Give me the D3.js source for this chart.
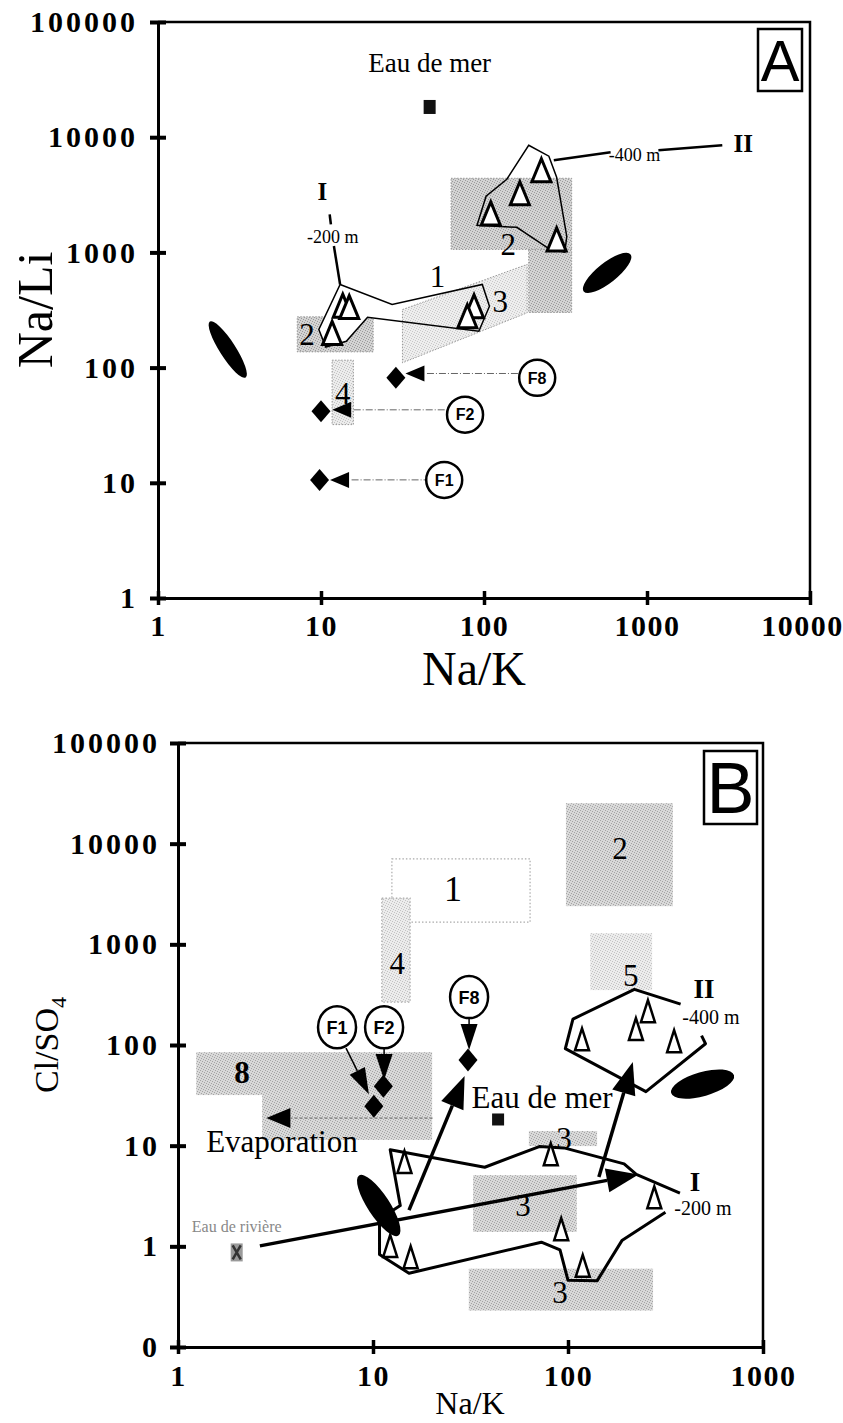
<!DOCTYPE html>
<html><head><meta charset="utf-8">
<script src="https://cdn.jsdelivr.net/npm/d3@7"></script>
<style>body{margin:0;background:#fff}</style>
</head><body>
<svg id="c" width="843" height="1423"></svg>
<script>
// ================= DATA =================
// axis ticks
const A_xTicks = [1,10,100,1000,10000];
const A_xLabels = ["1","10","100","1000","10000"];
const A_yTicks = [1,10,100,1000,10000,100000];
const A_yLabels = ["1","10","100","1000","10000","100000"];
const B_xTicks = [1,10,100,1000];
const B_xLabels = ["1","10","100","1000"];
const B_yTicks = [0.1,1,10,100,1000,10000,100000];
const B_yLabels = ["0","1","10","100","1000","10000","100000"];

// ---- Panel A (Na/K , Na/Li) ----
const A_trianglesI = [[13.6,345],[14.9,335],[11.7,200],[86.9,341],[79,279]];
const A_trianglesII = [[225,5165],[166,3260],[110,2180],[279,1297]];
const A_polyI = [[13.1,527],[27.3,353],[97.6,527],[108,341],[93,207],[19.3,274],[14.3,169],[10.7,151],[9.7,214]];
const A_polyII = [[188,8510],[250,6840],[279,4490],[322,1377],[313,1000],[243,1105],[159,1650],[90.6,1718],[103,3070],[138,4315]];
const A_leaderI = [[[11.3,2140],[11.5,1750]],[[12.0,1135],[13.1,527]]];
const A_leaderII = [[[268,6310],[598,7410]],[[1175,7710],[2897,8510]]];
const A_boxes = [ // [x0,x1,y0,y1,shade]
  [62.8,345,1062,4400,"dark"],
  [188,345,301,1062,"dark"],
  [7.15,20.9,137,276,"dark"],
  [11.7,15.8,32,116,"light"]
];
const A_parallelogram3 = [[31.6,319],[184,787],[184,299],[31.6,110]];
const A_zoneLabels = [["1",51.8,622],["2",141,1175],["3",126,377],["2",8.2,194],["4",13.6,60]];
const A_fNames = ["F1","F2","F8"];
const A_fDiamonds = [[9.8,10.6],[10.0,41.7],[28.8,81.5]];
const A_fArrowTips = [[13.0,10.6],[13.4,43],[37.7,88.9]];
const A_fCircles = [[57,10.6],[76.5,39],[212,81.5]];
const A_seaWater = [46.4,18300];
const A_seaLabel = [46.4,44900];
const A_ellipses = [[[2.08,251],[3.45,82]],[[409,458],[793,961]]];
const A_groupLabels = [["I",10.2,3390],["-200 m",11.8,1377],["II",3890,8870],["-400 m",839,7110]];

// ---- Panel B (Na/K , Cl/SO4) ----
const B_polyI = [[375,3.38],[224,5.18],[194,6.6],[95.5,9.5],[71.2,9.8],[37.4,6.1],[12.25,9.1],[13.8,2.54],[10.8,1.87],[10.8,0.83],[15.3,0.54],[73,1.1],[91,0.92],[100,0.46],[141,0.454],[189,1.14],[316,2.18]];
const B_polyII = [[378,255],[219,357],[106,181],[96.9,91.9],[251,34.4],[507,103],[484,124]];
const B_trianglesI = [[14.5,6.9],[81.6,8.2],[277,3.07],[92.3,1.48],[119,0.64],[12.25,1.01],[15.6,0.78]];
const B_trianglesII = [[118,114],[223,144],[257,217],[350,109]];
const B_boxes = [ // [x0,x1,y0,y1,shade]
  [12.5,63.9,1660,7050,"none"],
  [11.1,15.5,267,2880,"light"],
  [97.6,345,2395,25250,"med"],
  [130,270,351,1291,"light"],
  [1.24,20.1,31.8,84.9,"med"],
  [2.7,20.1,11.4,31.8,"med"],
  [63,141,9.9,14,"med"],
  [32.6,111,1.39,5.1,"med"],
  [31,273,0.23,0.6,"med"]
];
const B_zoneLabels = [["1",25.7,3610],["2",185,9020],["4",13.3,650],["5",210,494],["8",2.13,53.8],["3",95.4,11.9],["3",58.8,2.57],["3",91,0.351]];
const B_thickArrows = [[[2.63,1.01],[230,5.18]],[[15.3,2.29],[29.5,49.1]],[[144,4.88],[215,67.6]]];
const B_evapArrow = [[20.2,18.8],[2.84,18.8]];
const B_fNames = ["F1","F2","F8"];
const B_fCircles = [[6.54,150],[11.4,150],[31.1,299]];
const B_fArrows = [[[7.27,93],[9.53,32.5]],[[11.4,93],[11.4,44.8]],[[31.1,185],[31.1,89]]];
const B_fDiamonds = [[10.1,24.7],[11.3,39],[30.7,70.8]];
const B_seaWater = [43.8,18.2];
const B_seaLabel = [73.6,30.4];
const B_river = [2,0.87];
const B_riverLabel = [2.0,1.56];
const B_evapLabel = [3.41,11.1];
const B_ellipses = [[[8.48,5.06],[13.5,1.28]],[[338,33.3],[710,50.2]]];
const B_groupLabels = [["II",498,367],["-400 m",541,189],["I",448,4.45],["-200 m",492,2.4]];

// ================= DRAWING =================
const SERIF = '"Liberation Serif","Times New Roman",serif';
const SANS = '"Liberation Sans",Arial,Helvetica,sans-serif';
const svg = d3.select('#c');
const defs = svg.append('defs');
function pattern(id,bg,dot){
  const p=defs.append('pattern').attr('id',id).attr('width',5).attr('height',5).attr('patternUnits','userSpaceOnUse');
  p.append('rect').attr('width',5).attr('height',5).attr('fill',bg);
  [[0,0],[2,1],[4,2],[1,3],[3,4]].forEach(([x,y])=>p.append('rect').attr('x',x).attr('y',y).attr('width',1).attr('height',1).attr('fill',dot));
}
pattern('p-dark','#d3d3d3','#9a9a9a');
pattern('p-med','#d9d9d9','#a4a4a4');
pattern('p-light','#ececec','#c2c2c2');
const fillOf = s => s==='none' ? '#fff' : `url(#p-${s})`;

const xA = d3.scaleLog().domain([1,10000]).range([158,810]);
const yA = d3.scaleLog().domain([1,100000]).range([598,22]);
const xB = d3.scaleLog().domain([1,1000]).range([178,763]);
const yB = d3.scaleLog().domain([0.1,100000]).range([1347,743]);

function triUp(cx,cy,w,h){return `M${cx},${cy-h/2}L${cx+w/2},${cy+h/2}L${cx-w/2},${cy+h/2}Z`;}
function diamond(cx,cy,w,h){return `M${cx},${cy-h/2}L${cx+w/2},${cy}L${cx},${cy+h/2}L${cx-w/2},${cy}Z`;}
function triLeft(cx,cy,w,h){return `M${cx-w/2},${cy}L${cx+w/2},${cy-h/2}L${cx+w/2},${cy+h/2}Z`;}
function head(g,x1,y1,x2,y2,len,w){
  const a=Math.atan2(y2-y1,x2-x1);
  const bx=x2-len*Math.cos(a), by=y2-len*Math.sin(a);
  const px=-Math.sin(a)*w/2, py=Math.cos(a)*w/2;
  g.append('path').attr('d',`M${x2},${y2}L${bx+px},${by+py}L${bx-px},${by-py}Z`).attr('fill','#000');
  return [bx,by];
}
function ellipse(g,p1,p2,ry,xs,ys){
  const x1=xs(p1[0]),y1=ys(p1[1]),x2=xs(p2[0]),y2=ys(p2[1]);
  const cx=(x1+x2)/2, cy=(y1+y2)/2, rx=Math.hypot(x2-x1,y2-y1)/2;
  const ang=Math.atan2(y2-y1,x2-x1)*180/Math.PI;
  g.append('ellipse').attr('cx',cx).attr('cy',cy).attr('rx',rx).attr('ry',ry)
    .attr('transform',`rotate(${ang},${cx},${cy})`).attr('fill','#000');
}
function axes(g,xs,ys,xT,xL,yT,yL,fs,padL,padB,lastShift){
  const ax=g.append('g').attr('transform',`translate(0,${ys.range()[0]})`)
    .call(d3.axisBottom(xs).tickValues(xT).tickFormat((d,i)=>xL[i]).tickSizeInner(7).tickSizeOuter(0).tickPadding(padB));
  ax.selectAll('.tick line').attr('y1',-7).attr('stroke-width',3.5);
  ax.selectAll('text').attr('letter-spacing',1.5);
  ax.selectAll('.tick:last-of-type text').attr('dx',lastShift);
  const ay=g.append('g').attr('transform',`translate(${xs.range()[0]},0)`)
    .call(d3.axisLeft(ys).tickValues(yT).tickFormat((d,i)=>yL[i]).tickSizeInner(8).tickSizeOuter(0).tickPadding(padL));
  ay.selectAll('.tick line').attr('x1',8).attr('stroke-width',4);
  ay.selectAll('text').attr('letter-spacing',3);
  [ax,ay].forEach(a=>{
    a.select('.domain').attr('stroke','#000').attr('stroke-width',3);
    a.selectAll('text').attr('font-family',SERIF).attr('font-size',fs).attr('font-weight','bold').attr('fill','#000');
  });
  const [x0,x1]=xs.range(), [yb,yt]=ys.range();
  g.append('path').attr('d',`M${x0},${yt}H${x1}V${yb}`).attr('fill','none').attr('stroke','#000').attr('stroke-width',2.5);
}

// ---------------- Panel A ----------------
const gA = svg.append('g');
A_boxes.forEach(b=>{
  gA.append('rect').attr('x',xA(b[0])).attr('y',yA(b[3])).attr('width',xA(b[1])-xA(b[0])).attr('height',yA(b[2])-yA(b[3]))
    .attr('fill',fillOf(b[4])).attr('stroke','#999').attr('stroke-width',1).attr('stroke-dasharray','1.5,1.5');
});
const lineA = d3.line().x(d=>xA(d[0])).y(d=>yA(d[1]));
gA.append('path').attr('d',lineA(A_polyI)+'Z').attr('fill','#fff').attr('stroke','none');
gA.append('path').attr('d',lineA(A_parallelogram3)+'Z').attr('fill','url(#p-light)').attr('fill-opacity',0.9)
  .attr('stroke','#999').attr('stroke-width',1).attr('stroke-dasharray','1.5,1.5');
gA.append('path').attr('d',lineA(A_polyI)+'Z').attr('fill','none').attr('stroke','#000').attr('stroke-width',1.5);
gA.append('path').attr('d',lineA(A_polyII)+'Z').attr('fill','none').attr('stroke','#000').attr('stroke-width',1.5);
A_leaderI.concat(A_leaderII).forEach(seg=>gA.append('path').attr('d',lineA(seg)).attr('stroke','#000').attr('stroke-width',2.5).attr('fill','none'));
A_trianglesI.concat(A_trianglesII).forEach(p=>{
  gA.append('path').attr('d',triUp(xA(p[0]),yA(p[1]),19,23)).attr('fill','#fff').attr('stroke','#000').attr('stroke-width',3).attr('stroke-linejoin','miter');
});
A_zoneLabels.forEach(l=>gA.append('text').attr('x',xA(l[1])).attr('y',yA(l[2])).attr('dy','0.35em').attr('text-anchor','middle')
  .attr('font-family',SERIF).attr('font-size',31).text(l[0]));
A_groupLabels.forEach(l=>gA.append('text').attr('x',xA(l[1])).attr('y',yA(l[2])).attr('dy','0.35em').attr('text-anchor','middle')
  .attr('font-family',SERIF).attr('font-size',l[0].length>2?18:25).attr('font-weight',l[0].length>2?'normal':'bold').text(l[0]));
// F markers
A_fNames.forEach((n,i)=>{
  const d=A_fDiamonds[i], t=A_fArrowTips[i], c=A_fCircles[i];
  const tx=xA(t[0]), ty=yA(t[1]), cx=xA(c[0]), cy=yA(c[1]);
  gA.append('line').attr('x1',tx+12).attr('x2',cx-18).attr('y1',ty).attr('y2',ty).attr('stroke','#666').attr('stroke-width',1).attr('stroke-dasharray','7,2,1,2');
  gA.append('path').attr('d',diamond(xA(d[0]),yA(d[1]),19,22)).attr('fill','#000');
  gA.append('path').attr('d',triLeft(tx,ty,19,16)).attr('fill','#000');
  gA.append('circle').attr('cx',cx).attr('cy',cy).attr('r',18).attr('fill','#fff').attr('stroke','#000').attr('stroke-width',2.5);
  gA.append('text').attr('x',cx).attr('y',cy).attr('dy','0.36em').attr('text-anchor','middle').attr('font-family',SANS).attr('font-weight','bold').attr('font-size',16).text(n);
});
gA.append('rect').attr('x',xA(A_seaWater[0])-6).attr('y',yA(A_seaWater[1])-7).attr('width',12).attr('height',14).attr('fill','#111');
gA.append('text').attr('x',xA(A_seaLabel[0])).attr('y',yA(A_seaLabel[1])).attr('dy','0.35em').attr('text-anchor','middle').attr('font-family',SERIF).attr('font-size',27).text('Eau de mer');
A_ellipses.forEach((e,i)=>ellipse(gA,e[0],e[1],i===0?8:10,xA,yA));
axes(gA,xA,yA,A_xTicks,A_xLabels,A_yTicks,A_yLabels,30,12,10,-8);
gA.append('rect').attr('x',758).attr('y',29).attr('width',44).attr('height',62).attr('fill','#fff').attr('stroke','#000').attr('stroke-width',2.5);
gA.append('text').attr('x',780).attr('y',81).attr('text-anchor','middle').attr('font-family',SANS).attr('font-size',58).text('A');
gA.append('text').attr('x',474).attr('y',685).attr('text-anchor','middle').attr('font-family',SERIF).attr('font-size',48).text('Na/K');
gA.append('text').attr('transform','translate(52,310) rotate(-90)').attr('text-anchor','middle').attr('font-family',SERIF).attr('font-size',50).text('Na/Li');

// ---------------- Panel B ----------------
const gB = svg.append('g');
B_boxes.forEach(b=>{
  const r=gB.append('rect').attr('x',xB(b[0])).attr('y',yB(b[3])).attr('width',xB(b[1])-xB(b[0])).attr('height',yB(b[2])-yB(b[3]))
    .attr('fill',fillOf(b[4]));
  if(b[4]==='none'||(b[4]==='light'&&b[0]<20)) r.attr('stroke','#aaa').attr('stroke-width',1.2).attr('stroke-dasharray','1.5,2');
});
const lineB = d3.line().x(d=>xB(d[0])).y(d=>yB(d[1]));
gB.append('path').attr('d',lineB(B_polyI)).attr('fill','none').attr('stroke','#000').attr('stroke-width',3).attr('stroke-linejoin','round');
gB.append('path').attr('d',lineB(B_polyII)).attr('fill','none').attr('stroke','#000').attr('stroke-width',3).attr('stroke-linejoin','round');
B_zoneLabels.forEach(l=>gB.append('text').attr('x',xB(l[1])).attr('y',yB(l[2])).attr('dy','0.35em').attr('text-anchor','middle')
  .attr('font-family',SERIF).attr('font-size',l[0]==='1'?36:31).attr('font-weight',l[0]==='8'?'bold':'normal').text(l[0]));
// thick arrows
B_thickArrows.forEach(a=>{
  const x1=xB(a[0][0]),y1=yB(a[0][1]),x2=xB(a[1][0]),y2=yB(a[1][1]);
  const [bx,by]=head(gB,x1,y1,x2,y2,32,24);
  gB.append('line').attr('x1',x1).attr('y1',y1).attr('x2',bx).attr('y2',by).attr('stroke','#000').attr('stroke-width',3.5);
});
// evaporation
{
  const a=B_evapArrow, x1=xB(a[0][0]),y1=yB(a[0][1]),x2=xB(a[1][0]),y2=yB(a[1][1]);
  const [bx,by]=head(gB,x1,y1,x2,y2,24,20);
  gB.append('line').attr('x1',x1).attr('y1',y1).attr('x2',bx).attr('y2',by).attr('stroke','#777').attr('stroke-width',1.2).attr('stroke-dasharray','3,2');
}
B_trianglesI.concat(B_trianglesII).forEach(p=>{
  gB.append('path').attr('d',triUp(xB(p[0]),yB(p[1]),14,22)).attr('fill','#fff').attr('stroke','#000').attr('stroke-width',2.5);
});
// F markers
B_fNames.forEach((n,i)=>{
  const c=B_fCircles[i], a=B_fArrows[i], d=B_fDiamonds[i];
  const x1=xB(a[0][0]),y1=yB(a[0][1]),x2=xB(a[1][0]),y2=yB(a[1][1]);
  const [bx,by]=head(gB,x1,y1,x2,y2,26,17);
  gB.append('line').attr('x1',x1).attr('y1',y1).attr('x2',bx).attr('y2',by).attr('stroke','#000').attr('stroke-width',1.5);
  gB.append('path').attr('d',diamond(xB(d[0]),yB(d[1]),19,23)).attr('fill','#000');
  const cx=xB(c[0]), cy=yB(c[1]);
  gB.append('ellipse').attr('cx',cx).attr('cy',cy).attr('rx',19).attr('ry',21).attr('fill','#fff').attr('stroke','#000').attr('stroke-width',2.5);
  gB.append('text').attr('x',cx).attr('y',cy).attr('dy','0.36em').attr('text-anchor','middle').attr('font-family',SANS).attr('font-weight','bold').attr('font-size',18).text(n);
});
B_ellipses.forEach((e,i)=>ellipse(gB,e[0],e[1],i===0?11:12,xB,yB));
gB.append('rect').attr('x',xB(B_seaWater[0])-6).attr('y',yB(B_seaWater[1])-6).attr('width',12).attr('height',12).attr('fill','#111');
gB.append('text').attr('x',xB(B_seaLabel[0])).attr('y',yB(B_seaLabel[1])).attr('dy','0.35em').attr('text-anchor','middle').attr('font-family',SERIF).attr('font-size',31).text('Eau de mer');
{
  const rx=xB(B_river[0]), ry=yB(B_river[1]);
  gB.append('rect').attr('x',rx-6).attr('y',ry-9).attr('width',12).attr('height',18).attr('fill','#9a9a9a');
  gB.append('path').attr('d',`M${rx-4},${ry-7}L${rx+4},${ry+7}M${rx+4},${ry-7}L${rx-4},${ry+7}`).attr('stroke','#333').attr('stroke-width',2.5);
}
gB.append('text').attr('x',xB(B_riverLabel[0])).attr('y',yB(B_riverLabel[1])).attr('dy','0.35em').attr('text-anchor','middle').attr('font-family',SERIF).attr('font-size',16).attr('fill','#888').text('Eau de rivière');
gB.append('text').attr('x',xB(B_evapLabel[0])).attr('y',yB(B_evapLabel[1])).attr('dy','0.35em').attr('text-anchor','middle').attr('font-family',SERIF).attr('font-size',31).text('Evaporation');
B_groupLabels.forEach(l=>gB.append('text').attr('x',xB(l[1])).attr('y',yB(l[2])).attr('dy','0.35em').attr('text-anchor','middle')
  .attr('font-family',SERIF).attr('font-size',l[0].length>2?20:27).attr('font-weight',l[0].length>2?'normal':'bold').text(l[0]));
axes(gB,xB,yB,B_xTicks,B_xLabels,B_yTicks,B_yLabels,30,10,11,0);
gB.append('rect').attr('x',704).attr('y',751).attr('width',53).attr('height',73).attr('fill','#fff').attr('stroke','#000').attr('stroke-width',2.5);
gB.append('text').attr('x',730.5).attr('y',813).attr('text-anchor','middle').attr('font-family',SANS).attr('font-size',72).text('B');
gB.append('text').attr('x',470).attr('y',1414).attr('text-anchor','middle').attr('font-family',SERIF).attr('font-size',32).text('Na/K');
const tCl = gB.append('text').attr('transform','translate(58,1045) rotate(-90)').attr('text-anchor','middle').attr('font-family',SERIF).attr('font-size',34);
tCl.append('tspan').text('Cl/SO');
tCl.append('tspan').attr('font-size',22).attr('dy',8).text('4');
</script>
</body></html>
